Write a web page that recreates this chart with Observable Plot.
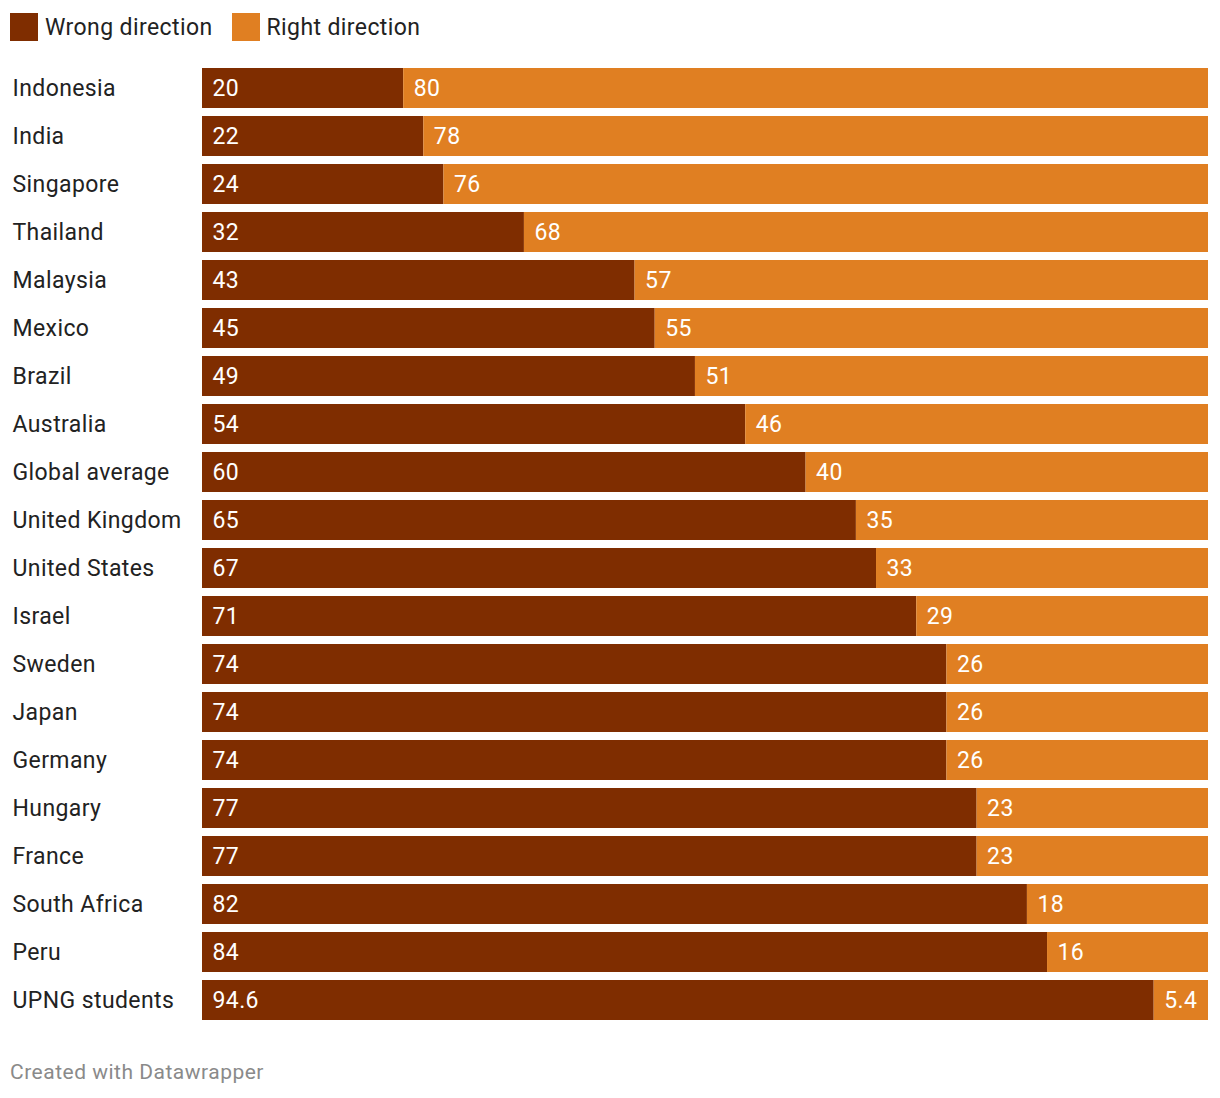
<!DOCTYPE html>
<html>
<head>
<meta charset="utf-8">
<script src="https://cdn.jsdelivr.net/npm/d3@7"></script>
<script src="https://cdn.jsdelivr.net/npm/@observablehq/plot@0.6"></script>
<style>
  body { margin: 0; background: #fff; font-family: Roboto, sans-serif; }
  #legend { height: 50px; display: flex; align-items: center; padding-left: 10px; font-size: 23px; letter-spacing: 0.4px; color: #222; box-sizing: border-box; padding-top: 4px; }
  .sw { width: 28px; height: 28px; display: inline-block; margin-right: 7px; }
  .item { display: flex; align-items: center; margin-right: 19px; }
  #footer { padding-left: 10px; font-size: 21px; letter-spacing: 0.5px; color: #8a8a8a; margin-top: 0px; }
  svg text { letter-spacing: 0.4px; }
</style>
</head>
<body>
<div id="legend"></div>
<div id="chart"></div>
<div id="footer">Created with Datawrapper</div>
<script>
const countries = ["Indonesia","India","Singapore","Thailand","Malaysia","Mexico","Brazil","Australia","Global average","United Kingdom","United States","Israel","Sweden","Japan","Germany","Hungary","France","South Africa","Peru","UPNG students"];
const wrongValues = [20,22,24,32,43,45,49,54,60,65,67,71,74,74,74,77,77,82,84,94.6];
const rightValues = [80,78,76,68,57,55,51,46,40,35,33,29,26,26,26,23,23,18,16,5.4];
const seriesNames = ["Wrong direction","Right direction"];
const colors = ["#7f2d00","#e07f22"];

const legend = document.getElementById("legend");
seriesNames.forEach((n,i) => {
  const it = document.createElement("span");
  it.className = "item";
  it.innerHTML = `<span class="sw" style="background:${colors[i]}"></span>${n}`;
  legend.appendChild(it);
});

const rows = countries.map((c,i) => ({country: c, wrong: wrongValues[i], right: rightValues[i]}));

const chart = Plot.plot({
  width: 1220,
  height: 1010,
  marginLeft: 202,
  marginRight: 12,
  marginTop: 18,
  marginBottom: 40,
  style: {fontFamily: "Roboto, sans-serif", fontSize: "23px"},
  x: {domain: [0, 100], axis: null},
  y: {domain: countries, axis: null, paddingInner: 8/48, paddingOuter: 0},
  marks: [
    Plot.barX(rows, {y: "country", x1: 0, x2: "wrong", fill: colors[0]}),
    Plot.barX(rows, {y: "country", x1: "wrong", x2: 100, fill: colors[1]}),
    Plot.text(rows, {y: "country", x: 0, text: d => String(d.wrong), textAnchor: "start", dx: 10, fill: "white", fontSize: 23}),
    Plot.text(rows, {y: "country", x: "wrong", text: d => String(d.right), textAnchor: "start", dx: 10, fill: "white", fontSize: 23}),
    Plot.text(rows, {y: "country", frameAnchor: "left", text: "country", textAnchor: "start", dx: -190, fill: "#222", fontSize: 23})
  ]
});
document.getElementById("chart").appendChild(chart);
</script>
</body>
</html>
